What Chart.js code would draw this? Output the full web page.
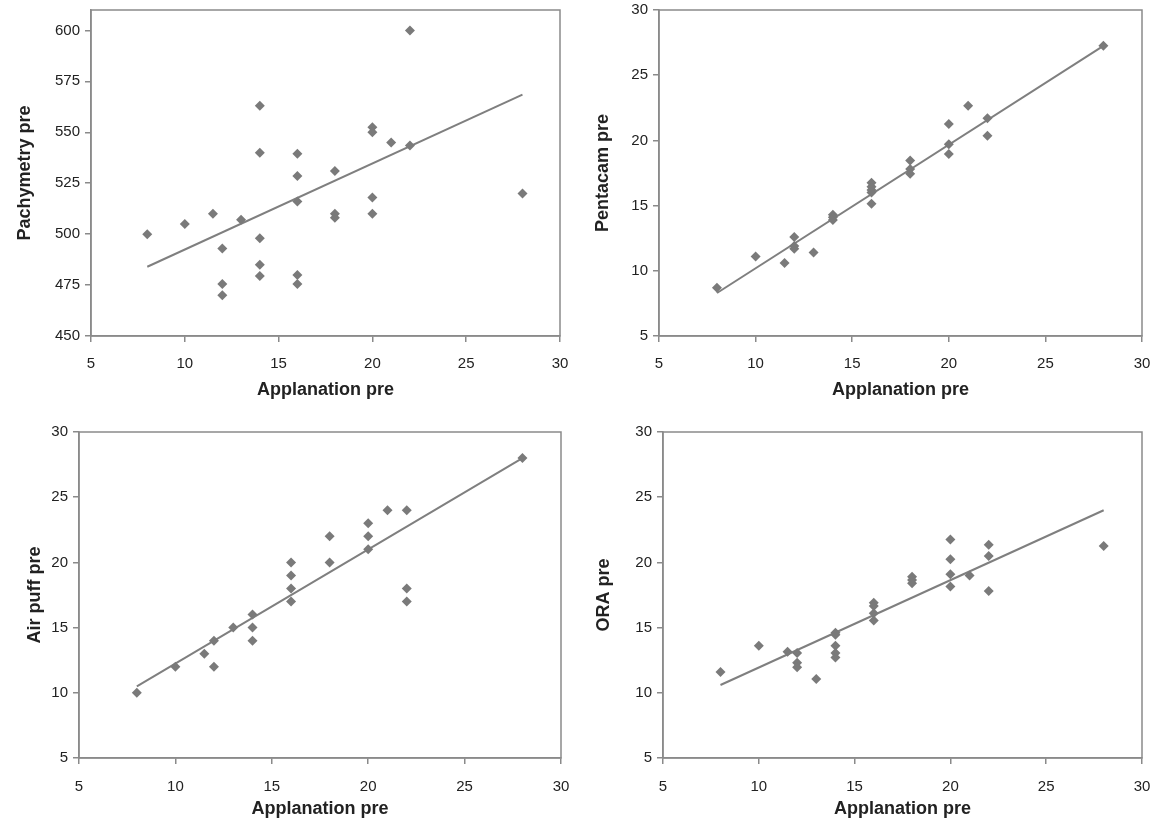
<!DOCTYPE html>
<html>
<head>
<meta charset="utf-8">
<script src="https://cdn.jsdelivr.net/npm/chart.js@4/dist/chart.umd.min.js"></script>
<style>
  body { margin: 0; background: #fff; }
  .cell { position: absolute; width: 577px; height: 412px; }
</style>
</head>
<body>
<div class="cell" style="left:0;top:0"><canvas id="c1" width="577" height="412"></canvas></div>
<div class="cell" style="left:577px;top:0"><canvas id="c2" width="577" height="412"></canvas></div>
<div class="cell" style="left:0;top:412px"><canvas id="c3" width="577" height="412"></canvas></div>
<div class="cell" style="left:577px;top:412px"><canvas id="c4" width="577" height="412"></canvas></div>
<script>
// x ticks shared by all four panels
const xTicks = [5, 10, 15, 20, 25, 30];
const pachyTicks = [450, 475, 500, 525, 550, 575, 600];
const iopTicks = [5, 10, 15, 20, 25, 30];
const trendX = [8, 28];

// Pachymetry pre vs Applanation pre
const pachyX = [8, 10, 11.5, 12, 12, 12, 13, 14, 14, 14, 14, 14, 16, 16, 16, 16, 16, 18, 18, 18, 20, 20, 20, 20, 21, 22, 22, 28];
const pachyY = [500, 505, 510, 493, 475.5, 470, 507, 563, 540, 498, 485, 479.5, 539.5, 528.5, 516, 480, 475.5, 531, 510, 508, 552.5, 550, 518, 510, 545, 600, 543.5, 520];
const pachyFit = [484, 568.5];

// Pentacam pre
const pentaX = [8, 10, 11.5, 12, 12, 12, 13, 14, 14, 14, 16, 16, 16, 16, 16, 18, 18, 18, 20, 20, 20, 21, 22, 22, 28];
const pentaY = [8.7, 11.1, 10.6, 12.6, 11.9, 11.7, 11.4, 14.3, 14.1, 13.9, 16.75, 16.45, 16.2, 16.0, 15.15, 18.45, 17.8, 17.45, 21.25, 19.7, 18.95, 22.65, 21.7, 20.35, 27.25];
const pentaFit = [8.3, 27.25];

// Air puff pre
const airX = [8, 10, 11.5, 12, 12, 13, 14, 14, 14, 16, 16, 16, 16, 18, 18, 20, 20, 20, 21, 22, 22, 22, 28];
const airY = [10, 12, 13, 14, 12, 15, 16, 15, 14, 20, 19, 18, 17, 22, 20, 23, 22, 21, 24, 24, 18, 17, 28];
const airFit = [10.5, 28];

// ORA pre
const oraX = [8, 10, 11.5, 12, 12, 12, 13, 14, 14, 14, 14, 14, 16, 16, 16, 16, 18, 18, 18, 20, 20, 20, 20, 21, 22, 22, 22, 28];
const oraY = [11.6, 13.6, 13.15, 13.05, 12.3, 11.95, 11.05, 14.6, 14.45, 13.6, 13.05, 12.7, 16.9, 16.65, 16.1, 15.55, 18.9, 18.65, 18.4, 21.75, 20.25, 19.1, 18.15, 19.0, 21.35, 20.5, 17.8, 21.25];
const oraFit = [10.6, 24];

const axisGrey = '#8a8a8a';
const markGrey = '#7a7a7a';
const textCol = '#222';

// outline round the plot area (top and right sides too)
const frame = {
  id: 'frame',
  afterDraw(chart) {
    const a = chart.chartArea, c = chart.ctx;
    c.save();
    c.strokeStyle = axisGrey;
    c.lineWidth = 1.5;
    c.strokeRect(a.left, a.top, a.right - a.left, a.bottom - a.top);
    c.restore();
  }
};

function pts(xs, ys) {
  return xs.map((x, i) => ({ x: x, y: ys[i] }));
}

function makeChart(id, xs, ys, fit, yTicks, yMax, yTitle, g) {
  new Chart(document.getElementById(id), {
    type: 'scatter',
    data: {
      datasets: [{
        data: pts(xs, ys),
        pointStyle: 'rectRot',
        pointRadius: 5,
        pointBackgroundColor: markGrey,
        pointBorderWidth: 0
      }, {
        data: pts(trendX, fit),
        showLine: true,
        pointRadius: 0,
        borderColor: '#7f7f7f',
        borderWidth: 2
      }]
    },
    options: {
      responsive: false,
      animation: false,
      layout: { padding: { left: 0, top: g.top, right: g.right, bottom: 0 } },
      plugins: { legend: { display: false }, tooltip: { enabled: false } },
      scales: {
        x: {
          type: 'linear',
          min: xTicks[0],
          max: xTicks[xTicks.length - 1],
          afterBuildTicks: s => { s.ticks = xTicks.map(v => ({ value: v })); },
          afterFit: s => { s.height = g.xh; s.paddingLeft = 0; s.paddingRight = 0; },
          grid: { drawOnChartArea: false, color: axisGrey, tickLength: 6, lineWidth: 1.5 },
          border: { color: axisGrey, width: 1.5 },
          ticks: { color: textCol, padding: g.xpad, font: { family: 'Liberation Sans, Arial', size: 15 } },
          title: {
            display: true, text: 'Applanation pre', color: textCol,
            padding: { top: 0, bottom: g.xtp },
            font: { family: 'Liberation Sans, Arial', size: 18, weight: 'bold' }
          }
        },
        y: {
          type: 'linear',
          min: yTicks[0],
          max: yMax,
          afterBuildTicks: s => { s.ticks = yTicks.map(v => ({ value: v })); },
          afterFit: s => { s.width = g.yw; s.paddingTop = 0; s.paddingBottom = 0; },
          grid: { drawOnChartArea: false, color: axisGrey, tickLength: 6, lineWidth: 1.5 },
          border: { color: axisGrey, width: 1.5 },
          ticks: { color: textCol, padding: 5, font: { family: 'Liberation Sans, Arial', size: 15 } },
          title: {
            display: true, text: yTitle, color: textCol,
            padding: { top: g.ytp, bottom: 0 },
            font: { family: 'Liberation Sans, Arial', size: 18, weight: 'bold' }
          }
        }
      }
    },
    plugins: [frame]
  });
}

makeChart('c1', pachyX, pachyY, pachyFit, pachyTicks, 610, 'Pachymetry pre',
  { top: 10, right: 17, yw: 91, xh: 76, xpad: 13, xtp: 11, ytp: 14 });
makeChart('c2', pentaX, pentaY, pentaFit, iopTicks, 30, 'Pentacam pre',
  { top: 10, right: 12, yw: 82, xh: 76, xpad: 13, xtp: 11, ytp: 15 });
makeChart('c3', airX, airY, airFit, iopTicks, 30, 'Air puff pre',
  { top: 20, right: 16, yw: 79, xh: 66, xpad: 14, xtp: 4, ytp: 24 });
makeChart('c4', oraX, oraY, oraFit, iopTicks, 30, 'ORA pre',
  { top: 20, right: 12, yw: 86, xh: 66, xpad: 14, xtp: 4, ytp: 16 });
</script>
</body>
</html>
